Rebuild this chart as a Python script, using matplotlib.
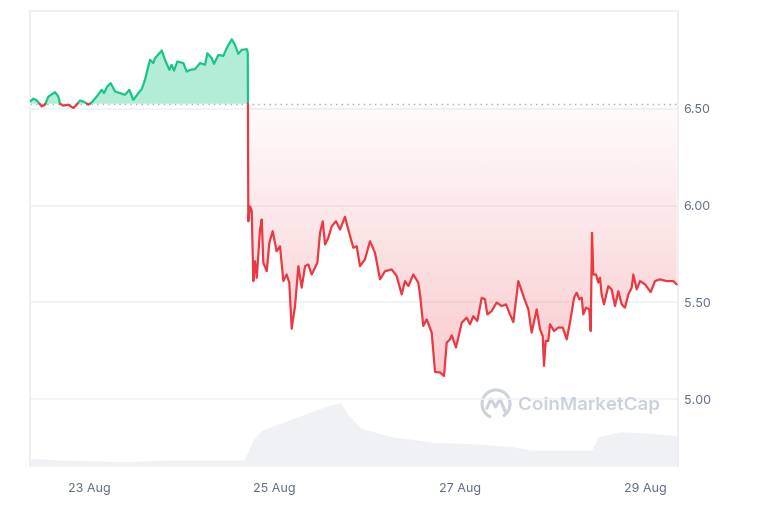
import numpy as np
import matplotlib
matplotlib.use("Agg")
import matplotlib.pyplot as plt
from matplotlib.patches import Circle, Arc
from matplotlib.lines import Line2D

plt.rcParams['font.family'] = ['Inter', 'DejaVu Sans']

# price: days since 23 Aug 00:00, USD
days = [-0.637, -0.601, -0.564, -0.510, -0.475, -0.439, -0.367, -0.331, -0.313, -0.277,
        -0.223, -0.169, -0.133, -0.097, -0.043, -0.008, 0.029, 0.083, 0.137, 0.162,
        0.197, 0.234, 0.281, 0.335, 0.388, 0.435, 0.478, 0.532, 0.569, 0.604,
        0.658, 0.694, 0.712, 0.785, 0.820, 0.867, 0.892, 0.917, 0.953, 1.018,
        1.054, 1.090, 1.144, 1.198, 1.252, 1.277, 1.324, 1.349, 1.395, 1.449,
        1.486, 1.540, 1.575, 1.611, 1.648, 1.702, 1.713, 1.719, 1.737, 1.756,
        1.773, 1.791, 1.810, 1.845, 1.864, 1.881, 1.918, 1.946, 1.982, 2.025,
        2.061, 2.097, 2.133, 2.161, 2.187, 2.223, 2.259, 2.295, 2.331, 2.366,
        2.403, 2.464, 2.493, 2.522, 2.547, 2.582, 2.619, 2.665, 2.709, 2.762,
        2.798, 2.852, 2.889, 2.924, 2.978, 3.032, 3.086, 3.140, 3.194, 3.266,
        3.320, 3.374, 3.410, 3.446, 3.500, 3.553, 3.572, 3.607, 3.644, 3.698,
        3.734, 3.788, 3.831, 3.860, 3.896, 3.914, 3.960, 4.022, 4.076, 4.111,
        4.147, 4.190, 4.238, 4.273, 4.298, 4.345, 4.399, 4.453, 4.500, 4.535,
        4.579, 4.633, 4.694, 4.741, 4.777, 4.831, 4.867, 4.896, 4.910, 4.928,
        4.956, 4.975, 5.018, 5.064, 5.112, 5.155, 5.190, 5.234, 5.263, 5.291,
        5.317, 5.334, 5.363, 5.399, 5.414, 5.428, 5.442, 5.471, 5.496, 5.514,
        5.532, 5.557, 5.604, 5.640, 5.676, 5.712, 5.748, 5.784, 5.820, 5.856,
        5.874, 5.910, 5.946, 6.000, 6.061, 6.108, 6.162, 6.234, 6.305, 6.342]
prices = [6.538, 6.552, 6.543, 6.512, 6.521, 6.563, 6.586, 6.563, 6.526, 6.516,
          6.521, 6.504, 6.521, 6.543, 6.533, 6.521, 6.533, 6.563, 6.598, 6.581,
          6.615, 6.632, 6.589, 6.581, 6.572, 6.598, 6.546, 6.581, 6.602, 6.650,
          6.753, 6.736, 6.761, 6.801, 6.753, 6.701, 6.727, 6.697, 6.744, 6.736,
          6.692, 6.701, 6.705, 6.736, 6.727, 6.787, 6.761, 6.732, 6.778, 6.773,
          6.813, 6.859, 6.830, 6.784, 6.804, 6.808, 6.790, 5.919, 5.996, 5.971,
          5.610, 5.713, 5.627, 5.876, 5.928, 5.705, 5.661, 5.808, 5.868, 5.764,
          5.790, 5.610, 5.644, 5.602, 5.364, 5.481, 5.687, 5.576, 5.687, 5.696,
          5.644, 5.705, 5.859, 5.919, 5.799, 5.833, 5.893, 5.919, 5.876, 5.942,
          5.876, 5.782, 5.790, 5.687, 5.722, 5.816, 5.756, 5.619, 5.661, 5.670,
          5.636, 5.541, 5.610, 5.584, 5.644, 5.602, 5.541, 5.378, 5.412, 5.344,
          5.141, 5.138, 5.120, 5.292, 5.309, 5.330, 5.267, 5.395, 5.421, 5.387,
          5.429, 5.404, 5.524, 5.516, 5.438, 5.455, 5.499, 5.481, 5.490, 5.447,
          5.398, 5.610, 5.524, 5.464, 5.344, 5.464, 5.361, 5.326, 5.172, 5.301,
          5.301, 5.387, 5.352, 5.370, 5.370, 5.309, 5.395, 5.524, 5.550, 5.516,
          5.524, 5.438, 5.473, 5.464, 5.352, 5.859, 5.644, 5.644, 5.602, 5.627,
          5.541, 5.490, 5.584, 5.567, 5.481, 5.558, 5.490, 5.473, 5.541, 5.576,
          5.644, 5.567, 5.610, 5.593, 5.553, 5.610, 5.619, 5.610, 5.610, 5.593]
open_price = 6.526

# volume (relative units)
vol_days = [-0.637, -0.313, 0.417, 0.804, 1.673, 1.770, 1.867, 2.061, 2.352, 2.594,
            2.715, 2.784, 2.935, 3.270, 3.755, 4.090, 4.575, 4.770, 5.425, 5.498,
            5.741, 6.033, 6.356]
volume = [0.77, 0.60, 0.43, 0.60, 0.60, 2.60, 3.60, 4.27, 5.27, 6.10,
          6.33, 5.27, 3.77, 2.93, 2.33, 2.27, 1.93, 1.60, 1.60, 2.93,
          3.43, 3.27, 3.03]

tick_days = [0, 2, 4, 6]
tick_labels = ['23 Aug', '25 Aug', '27 Aug', '29 Aug']
price_ticks = [5.0, 5.5, 6.0, 6.5]

GREEN = '#16c784'
RED = '#ea3943'
TXT = '#616e85'
GRID = '#eff2f5'

# insert crossings with the opening price so colours switch cleanly
xs, ys = [days[0]], [prices[0]]
for i in range(1, len(days)):
    x0, y0, x1, y1 = days[i - 1], prices[i - 1], days[i], prices[i]
    if (y0 - open_price) * (y1 - open_price) < 0:
        xc = x0 + (open_price - y0) * (x1 - x0) / (y1 - y0)
        xs.append(xc)
        ys.append(open_price)
    xs.append(x1)
    ys.append(y1)
xs = np.array(xs)
ys = np.array(ys)

fig = plt.figure(figsize=(7.6, 5.07), dpi=100)
ax = fig.add_axes([30 / 760, 1 - 466 / 507, 648 / 760, 455 / 507])
axv = ax.twinx()
ax.set_zorder(2)
ax.patch.set_visible(False)
axv.set_zorder(1)

xmin, xmax = -0.637, 6.356
ymin, ymax = 4.655, 7.005

# volume
axv.fill_between(vol_days, volume, 0, color='#eff1f4', lw=0, step=None)
axv.set_ylim(0, max(volume) * 7.2)
axv.set_yticks([])
for s in axv.spines.values():
    s.set_visible(False)

# grid + opening line
for t in price_ticks:
    ax.axhline(t, color=GRID, lw=1.2, zorder=0)
ax.axhline(open_price, color='#a7b1c2', lw=1, ls=(0, (1, 3)), zorder=1)

# fills
ax.fill_between(xs, ys, open_price, where=ys >= open_price, color=GREEN,
                alpha=0.32, lw=0, zorder=1)
red_poly = ax.fill_between(xs, ys, open_price, where=ys <= open_price,
                           color='none', lw=0, zorder=1)
pmin = min(prices)
n = 256
grad = np.zeros((n, 1, 4))
grad[:, 0, :3] = matplotlib.colors.to_rgb(RED)
grad[:, 0, 3] = np.linspace(0.26, 0.02, n)
im = ax.imshow(grad, extent=[xmin, xmax, pmin, open_price], origin='lower',
               aspect='auto', zorder=1, interpolation='bilinear')
for p in red_poly.get_paths():
    pass
im.set_clip_path(red_poly.get_paths()[0], transform=ax.transData)
if len(red_poly.get_paths()) > 1:
    from matplotlib.path import Path
    im.set_clip_path(Path.make_compound_path(*red_poly.get_paths()), transform=ax.transData)

# price line coloured by side of opening price
up = np.where(ys >= open_price, ys, np.nan)
dn = np.where(ys <= open_price, ys, np.nan)
ax.plot(xs, up, color=GREEN, lw=1.6, zorder=3, solid_capstyle='round')
ax.plot(xs, dn, color=RED, lw=1.6, zorder=3, solid_capstyle='round')

ax.set_xlim(xmin, xmax)
ax.set_ylim(ymin, ymax)
axv.set_xlim(xmin, xmax)

ax.yaxis.tick_right()
ax.set_yticks(price_ticks)
ax.set_yticklabels([f'{t:.2f}' for t in price_ticks])
ax.set_xticks(tick_days)
ax.set_xticklabels(tick_labels)
ax.tick_params(axis='both', length=0, labelsize=9, labelcolor=TXT)
ax.tick_params(axis='y', pad=4)
ax.tick_params(axis='x', pad=12)

for side in ['left', 'right', 'top']:
    ax.spines[side].set_color('#eceef1')
    ax.spines[side].set_linewidth(1.3)
ax.spines['bottom'].set_visible(False)

# watermark
wm = '#cbd2de'
circ = Arc((4.96, 1.03), 0.28, 0.28, theta1=-60, theta2=250,
           transform=fig.dpi_scale_trans, color=wm, lw=2.2)
fig.add_artist(circ)
fig.add_artist(Line2D([4.87, 4.91, 4.955, 5.00, 5.05],
                      [0.99, 1.08, 1.00, 1.08, 0.96],
                      transform=fig.dpi_scale_trans, color=wm, lw=2.2))
fig.text(518 / 760, 1 - 405 / 507, 'CoinMarketCap', fontsize=13.5, color=wm,
         fontweight='semibold', va='center', ha='left')

fig.savefig('out.png', dpi=100)
